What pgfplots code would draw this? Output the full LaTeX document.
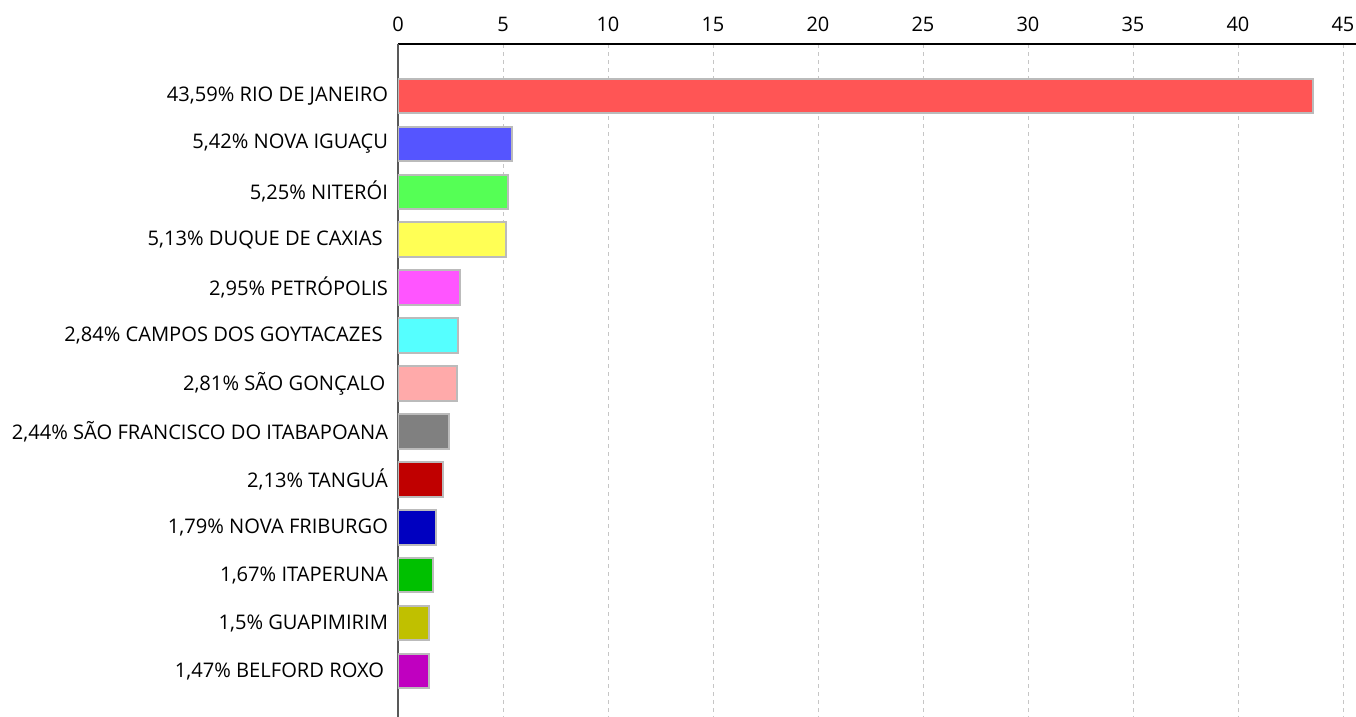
\documentclass[border=0pt]{standalone}
\usepackage{pgfplots}
\pgfplotsset{compat=1.18}
\usepackage{fontspec}
\setmainfont{Open Sans}
\definecolor{c1}{HTML}{FF5555}
\definecolor{c2}{HTML}{5555FF}
\definecolor{c3}{HTML}{55FF55}
\definecolor{c4}{HTML}{FFFF55}
\definecolor{c5}{HTML}{FF55FF}
\definecolor{c6}{HTML}{55FFFF}
\definecolor{c7}{HTML}{FFAAAA}
\definecolor{c8}{HTML}{808080}
\definecolor{c9}{HTML}{C00000}
\definecolor{c10}{HTML}{0000C0}
\definecolor{c11}{HTML}{00C000}
\definecolor{c12}{HTML}{C0C000}
\definecolor{c13}{HTML}{C000C0}
\definecolor{bord}{HTML}{BBBBBB}
\begin{document}
\begin{tikzpicture}
\begin{axis}[
  at={(0,0)}, anchor=south west,
  scale only axis, width=718.5pt, height=504.75pt,
  xmin=0, xmax=45.62,
  ymin=-1.085, ymax=12.96, y dir=reverse,
  axis x line*=top, axis y line*=left,
  x axis line style={black, line width=1.5pt, -},
  y axis line style={gray!70!black, line width=1.3pt, -},
  xtick={0,5,...,45},
  major tick length=0pt,
  xticklabel style={font=\fontsize{15}{17}\selectfont},
  xticklabel shift=6pt,
  /pgf/number format/assume math mode=true,
  xmajorgrids, grid style={dashed, color=gray!45, line width=0.6pt},
  ytick={0,...,12},
  yticklabels={{43,59\% RIO DE JANEIRO}, {5,42\% NOVA IGUAÇU}, {5,25\% NITERÓI}, {5,13\% DUQUE DE CAXIAS\kern4pt}, {2,95\% PETRÓPOLIS}, {2,84\% CAMPOS DOS GOYTACAZES\kern4pt}, {2,81\% SÃO GONÇALO\kern2pt}, {2,44\% SÃO FRANCISCO DO ITABAPOANA}, {2,13\% TANGUÁ}, {1,79\% NOVA FRIBURGO}, {1,67\% ITAPERUNA}, {1,5\% GUAPIMIRIM}, {1,47\% BELFORD ROXO\kern3pt}},
  yticklabel style={font=\fontsize{15.1}{17}\selectfont},
  yticklabel shift=4pt,
  xbar, bar width=0.72, bar shift=0pt,
  every axis plot/.append style={draw=bord, line width=1.5pt},
]
\addplot[fill=c1] coordinates {(43.59,0)};
\addplot[fill=c2] coordinates {(5.42,1)};
\addplot[fill=c3] coordinates {(5.25,2)};
\addplot[fill=c4] coordinates {(5.13,3)};
\addplot[fill=c5] coordinates {(2.95,4)};
\addplot[fill=c6] coordinates {(2.84,5)};
\addplot[fill=c7] coordinates {(2.81,6)};
\addplot[fill=c8] coordinates {(2.44,7)};
\addplot[fill=c9] coordinates {(2.13,8)};
\addplot[fill=c10] coordinates {(1.79,9)};
\addplot[fill=c11] coordinates {(1.67,10)};
\addplot[fill=c12] coordinates {(1.5,11)};
\addplot[fill=c13] coordinates {(1.47,12)};
\end{axis}
\pgfresetboundingbox
\useasboundingbox (-298.5pt,0) rectangle (718.5pt,537.75pt);
\end{tikzpicture}
\end{document}
